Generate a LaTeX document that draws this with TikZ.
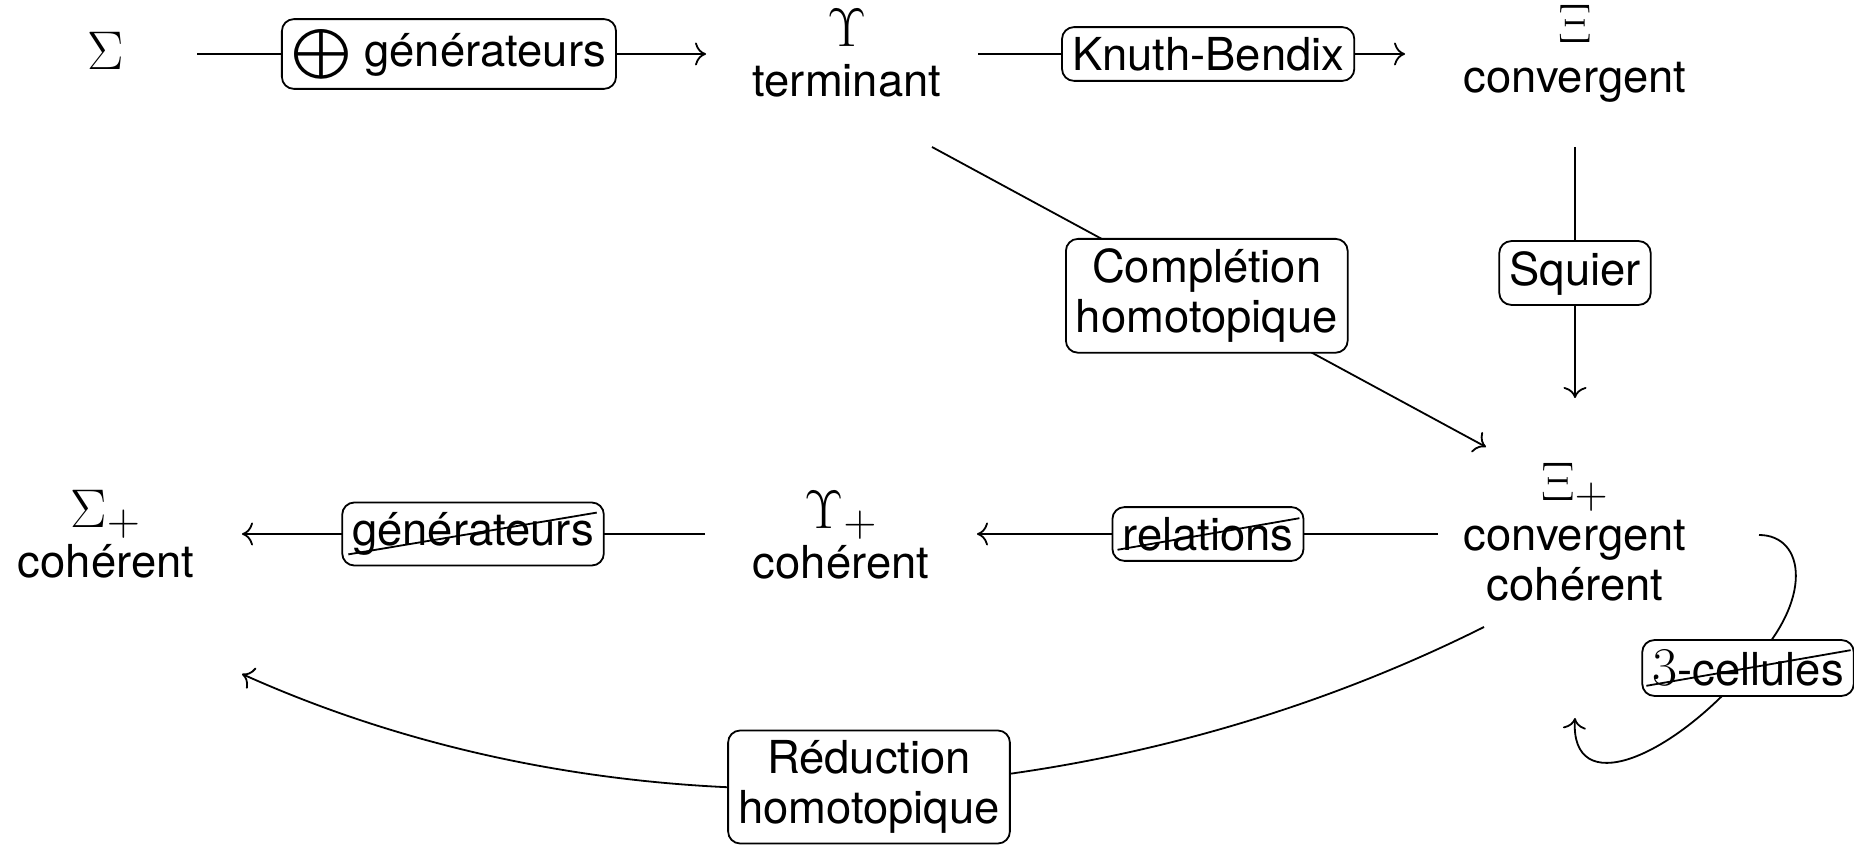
\documentclass[tikz,border=0pt]{standalone}
\usepackage{amsmath}
\usepackage{graphicx}
\usepackage{fontspec}
\setmainfont{TeX Gyre Heros}
\usetikzlibrary{arrows.meta,calc}
% math symbols brought up to the label size
\newcommand{\grandmath}[1]{\scalebox{1.314}{$#1$}}
\begin{document}
\begin{tikzpicture}[x=0.5pt,y=-0.5pt,
  every node/.style={font=\fontsize{22.7}{25}\selectfont, inner sep=0pt, align=center},
  lbl/.style={draw, rounded corners=6pt, fill=white, inner sep=5pt, line width=0.9pt},
  arr/.style={line width=0.9pt, -{Computer Modern Rightarrow[length=5.5pt,width=11.5pt]}},
  strike/.style={line width=0.9pt}]
\useasboundingbox (0,0) rectangle (1854,849);

% objects
\node (Sigma)  at (106,50.5)  {\grandmath{\Sigma}};
\node (Ups)    at (847,53.5)  {\grandmath{\Upsilon}\\terminant};
\node (Xi)     at (1575,54)   {\grandmath{\Xi}\\convergent};
\node (Xip)    at (1575,532.5) {\grandmath{\Xi_+}\\convergent\\cohérent};
\node (Upsp)   at (841,535.5) {\grandmath{\Upsilon_+}\\cohérent};
\node (Sigmap) at (106,534.5) {\grandmath{\Sigma_+}\\cohérent};

% straight arrows with their labels
\draw[arr] ($(Sigma.center)+(91,3.5)$) -- node[lbl,pos=.495] (l1) {\scalebox{1.3}[1.2]{$\bigoplus$} générateurs} ($(Ups.center)+(-141,0.5)$);
\draw[arr] ($(Ups.center)+(131,0.5)$) -- node[lbl,pos=.539] (l2) {Knuth-Bendix} ($(Xi.center)+(-170,0)$);
\draw[arr] ($(Xi.center)+(0,93)$) -- node[lbl,pos=.502] (l3) {Squier} ($(Xip.center)+(0,-134.5)$);
\draw[arr] ($(Ups.center)+(85,93.5)$) -- node[lbl,pos=.496] (l4) {Complétion\\homotopique} ($(Xip.center)+(-89,-85.5)$);
\draw[arr] ($(Xip.center)+(-137,1.5)$) -- node[lbl,pos=.499] (l5) {relations} ($(Upsp.center)+(136,-1.5)$);
\draw[arr] ($(Upsp.center)+(-136,-1.5)$) -- node[lbl,pos=.501] (l6) {générateurs} ($(Sigmap.center)+(136,-0.5)$);

% curved arrow at the bottom
\draw[arr] ($(Xip.center)+(-91,94.5)$) .. controls (1108,815) and (634,850) .. node[lbl,pos=.5] (l7) {Réduction\\homotopique} ($(Sigmap.center)+(136,139.5)$);

% loop on the convergent coherent object
\draw[arr] ($(Xip.center)+(184,2.5)$) .. controls (1805,535) and (1815,600) .. (1748,668) node[lbl] (l8) {\grandmath{3}-cellules} .. controls (1670,760) and (1570,800) .. ($(Xip.center)+(0,185.5)$);

% cancelled labels
\draw[strike] ($(l5.south west)+(6,-12)$) -- ($(l5.north east)+(-5,12)$);
\draw[strike] ($(l6.south west)+(7,-12)$) -- ($(l6.north east)+(-8,11)$);
\draw[strike] ($(l8.south west)+(5,-11)$) -- ($(l8.north east)+(-4,11)$);
\end{tikzpicture}
\end{document}
